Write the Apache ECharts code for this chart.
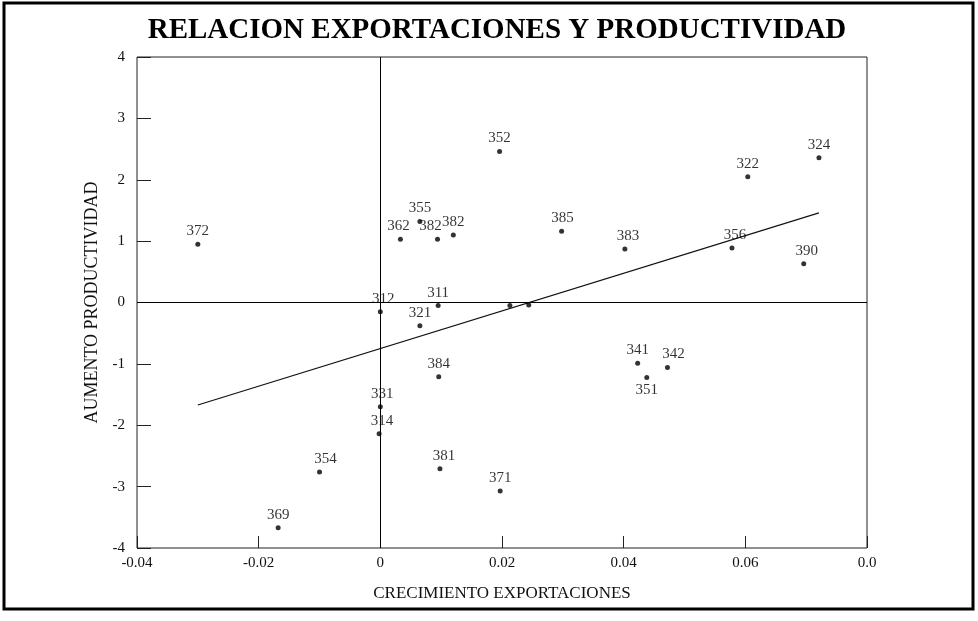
<!DOCTYPE html>
<html>
<head>
<meta charset="utf-8">
<title>Relación exportaciones y productividad</title>
<script src="https://cdn.jsdelivr.net/npm/echarts@6/dist/echarts.min.js"></script>
<style>
  html, body { margin: 0; padding: 0; background: #fff; }
  #chart { width: 978px; height: 621px; }
</style>
</head>
<body>
<div id="chart"></div>
<script>
// Industry codes (ISIC, 3 digits) and their coordinates
const codes = ['372','312','311','321','384','331','314','381','371','354','369',
               '324','322','385','383','356','390','341','342','351',
               '352','355','362','382','382','',''];
const exportGrowth = [-0.0300, 0.0000, 0.0095, 0.0065, 0.0096, 0.0000, -0.0002, 0.0098, 0.0197, -0.0100, -0.0168,
                      0.0721, 0.0604, 0.0298, 0.0402, 0.0578, 0.0696, 0.0423, 0.0472, 0.0438,
                      0.0196, 0.0065, 0.0033, 0.0094, 0.0120, 0.0213, 0.0244];
const productivityGain = [0.95, -0.15, -0.05, -0.38, -1.21, -1.70, -2.14, -2.71, -3.07, -2.76, -3.67,
                          2.36, 2.05, 1.16, 0.87, 0.89, 0.63, -0.99, -1.06, -1.22,
                          2.46, 1.32, 1.03, 1.03, 1.10, -0.05, -0.04];

// Fitted line end points
const trendX = [-0.0300, 0.0721];
const trendY = [-1.67, 1.46];

// Axis ticks
const xTickLabels = ['-0.04', '-0.02', '0', '0.02', '0.04', '0.06', '0.0'];
const yTickLabels = ['-4', '-3', '-2', '-1', '0', '1', '2', '3', '4'];

// Axis ranges
const X_MIN = -0.04, X_MAX = 0.08, X_STEP = 0.02;
const Y_MIN = -4, Y_MAX = 4, Y_STEP = 1;

// Label placement tweaks (style only), aligned with codes
const labelNudge = [0, 3, 0, 0, 0, 2, 3, 4, 0, 6, 0,
                    0, 0, 1, 3, 3, 3, 0, 6, 0,
                    0, 0, -2, -7, 0, 0, 0];

const SERIF = '"Liberation Serif", "Times New Roman", serif';

const points = codes.map((c, i) => ({
  value: [exportGrowth[i], productivityGain[i]],
  name: c,
  label: {
    position: c === '351' ? 'bottom' : 'top',
    offset: [labelNudge[i], 0]
  }
}));

const chart = echarts.init(document.getElementById('chart'), null, { renderer: 'canvas' });

chart.setOption({
  animation: false,
  backgroundColor: '#fff',
  textStyle: { fontFamily: SERIF },
  grid: {
    left: 137, top: 57, right: 111, bottom: 73,
    show: true, borderColor: '#222', borderWidth: 1, backgroundColor: 'transparent'
  },
  graphic: [
    {
      type: 'rect', silent: true,
      shape: { x: 4, y: 3, width: 969, height: 606 },
      style: { fill: 'none', stroke: '#000', lineWidth: 3 }
    },
    {
      type: 'text', silent: true,
      x: 497, y: 31,
      style: {
        text: 'RELACION EXPORTACIONES Y PRODUCTIVIDAD',
        font: 'bold 29px ' + SERIF,
        fill: '#000',
        align: 'center', verticalAlign: 'middle'
      }
    }
  ],
  xAxis: {
    type: 'value',
    min: X_MIN, max: X_MAX, interval: X_STEP,
    name: 'CRECIMIENTO EXPORTACIONES',
    nameLocation: 'middle', nameGap: 37,
    nameTextStyle: { fontFamily: SERIF, fontSize: 17, color: '#111' },
    axisLine: { show: false, onZero: false },
    axisTick: { show: true, inside: true, length: 12, lineStyle: { color: '#222' } },
    axisLabel: {
      margin: 8, fontFamily: SERIF, fontSize: 15, color: '#111',
      formatter: v => xTickLabels[Math.round((v - X_MIN) / X_STEP)]
    },
    splitLine: { show: false }
  },
  yAxis: {
    type: 'value',
    min: Y_MIN, max: Y_MAX, interval: Y_STEP,
    name: 'AUMENTO PRODUCTIVIDAD',
    nameLocation: 'middle', nameGap: 32, nameRotate: 90,
    nameTextStyle: { fontFamily: SERIF, fontSize: 18, color: '#111' },
    axisLine: { show: false, onZero: false },
    axisTick: { show: true, inside: true, length: 14, lineStyle: { color: '#222' } },
    axisLabel: {
      margin: 12, fontFamily: SERIF, fontSize: 15, color: '#111',
      formatter: v => yTickLabels[Math.round((v - Y_MIN) / Y_STEP)]
    },
    splitLine: { show: false }
  },
  series: [
    {
      type: 'scatter',
      symbol: 'circle',
      symbolSize: 5,
      itemStyle: { color: '#000' },
      label: {
        show: true,
        formatter: p => p.name,
        distance: 3,
        fontFamily: SERIF, fontSize: 15, color: '#000'
      },
      data: points,
      markLine: {
        silent: true,
        symbol: ['none', 'none'],
        label: { show: false },
        lineStyle: { color: '#000', type: 'solid', width: 1 },
        data: [{ xAxis: 0 }, { yAxis: 0 }]
      },
      z: 3
    },
    {
      type: 'line',
      data: trendX.map((x, i) => [x, trendY[i]]),
      symbol: 'none',
      lineStyle: { color: '#111', width: 1.2 },
      z: 2
    }
  ]
});
</script>
</body>
</html>
